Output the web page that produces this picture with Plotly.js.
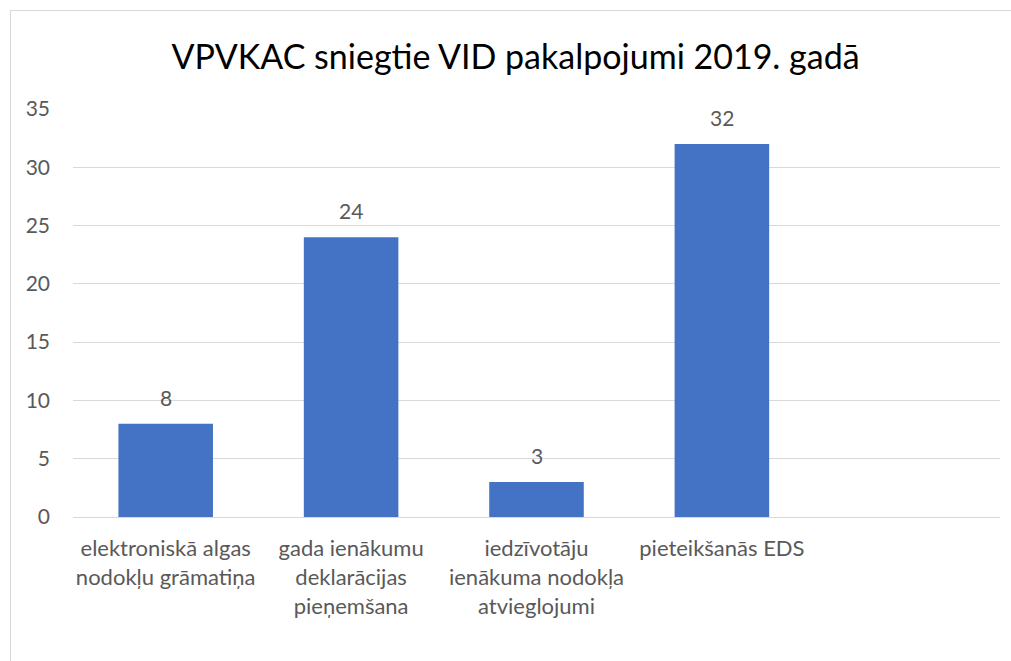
<!DOCTYPE html>
<html>
<head>
<meta charset="utf-8">
<script src="https://cdn.plot.ly/plotly-3.0.1.min.js"></script>
<style>
  body { margin: 0; background: #fff; }
  #frame { position: absolute; left: 10px; top: 10px; width: 1010px; height: 660px; border: 1px solid #d9d9d9; box-sizing: border-box; }
  #chart { position: absolute; left: 0; top: 0; width: 1011px; height: 661px; }
</style>
</head>
<body>
<div id="frame"></div>
<div id="chart"></div>
<script>
const categories = [
  "elektroniskā algas<br>nodokļu grāmatiņa",
  "gada ienākumu<br>deklarācijas<br>pieņemšana",
  "iedzīvotāju<br>ienākuma nodokļa<br>atvieglojumi",
  "pieteikšanās EDS",
  " "
];
const values = [8, 24, 3, 32, null];

const FONT = "Lato, 'Open Sans', sans-serif";

const trace = {
  x: categories,
  y: values,
  type: "bar",
  marker: { color: "#4472c4" },
  hoverinfo: "none",
};

// value labels above the bars
const valueLabels = categories
  .map((c, i) => ({ c, v: values[i] }))
  .filter((d) => d.v !== null)
  .map((d) => ({
    x: d.c,
    y: d.v,
    xref: "x",
    yref: "y",
    text: String(d.v),
    showarrow: false,
    yanchor: "bottom",
    yshift: 12,
    font: { family: FONT, size: 21, color: "#595959" },
  }));

Plotly.newPlot("chart", [trace], {
  width: 1011,
  height: 661,
  margin: { l: 73, r: 11, t: 109, b: 144 },
  paper_bgcolor: "rgba(0,0,0,0)",
  plot_bgcolor: "rgba(0,0,0,0)",
  bargap: 0.49,
  showlegend: false,
  annotations: valueLabels,
  title: {
    text: "VPVKAC sniegtie VID pakalpojumi 2019. gadā",
    font: { family: FONT, size: 34, color: "#000" },
    x: 0.51,
    xanchor: "center",
    y: 0.913,
    yanchor: "middle",
  },
  font: { family: FONT, size: 22, color: "#595959" },
  xaxis: {
    type: "category",
    tickangle: 0,
    showgrid: false,
    showline: true,
    linecolor: "#d9d9d9",
    linewidth: 1,
    ticks: "",
    ticklabelstandoff: 12,
    tickfont: { size: 22, color: "#595959" },
  },
  yaxis: {
    range: [0, 35],
    dtick: 5,
    showgrid: true,
    gridcolor: "#d9d9d9",
    gridwidth: 1,
    zeroline: false,
    showline: false,
    ticks: "",
    ticklabelstandoff: 22,
    tickfont: { size: 21, color: "#595959" },
  },
}, { displayModeBar: false, staticPlot: true });
</script>
</body>
</html>
